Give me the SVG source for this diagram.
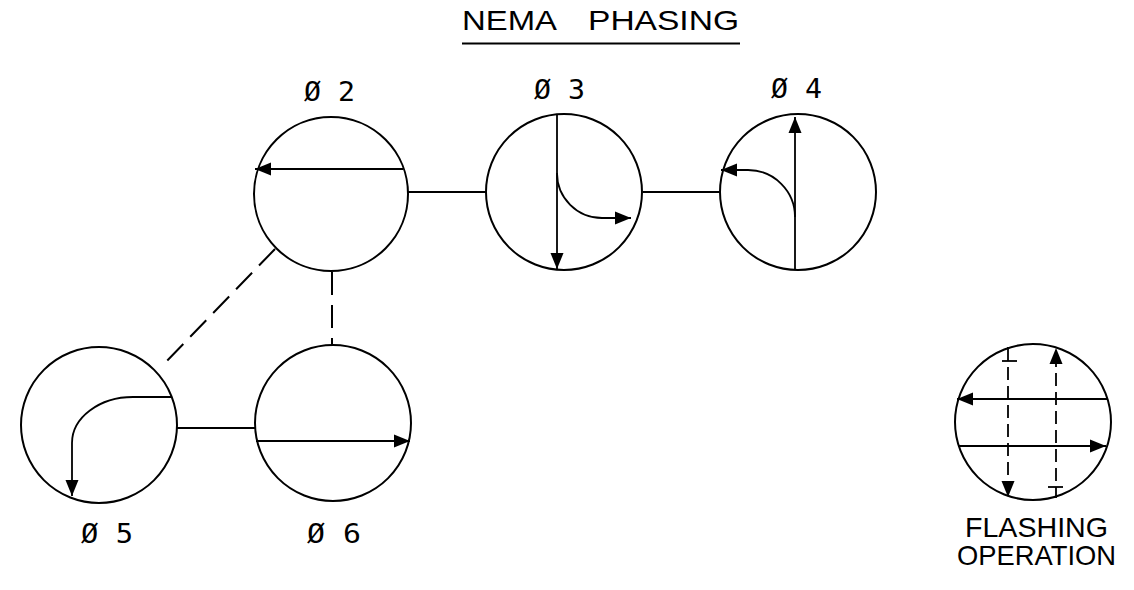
<svg xmlns="http://www.w3.org/2000/svg" width="1134" height="590" viewBox="0 0 1134 590">
<style>
.c{fill:none;stroke:#000;stroke-width:2}
.l{fill:none;stroke:#000;stroke-width:1.8}
.d{fill:none;stroke:#000;stroke-width:2;stroke-dasharray:23 10}
.fd{fill:none;stroke:#000;stroke-width:1.8;stroke-dasharray:13 6}
.a{marker-end:url(#ah)}
.t{font-family:"Liberation Sans","DejaVu Sans",sans-serif;font-size:28px;fill:#000}
.m{font-family:"DejaVu Sans Mono","Liberation Mono",monospace;font-size:27px;fill:#000}
</style>
<defs>
<marker id="ah" markerUnits="userSpaceOnUse" markerWidth="17" markerHeight="14" refX="16" refY="7" orient="auto">
<path d="M0,0.5 L16,7 L0,13.5 Z" fill="#000"/>
</marker>
</defs>
<rect width="1134" height="590" fill="#fff"/>
<g id="title">
<text class="t"><tspan x="462" y="30" textLength="95" lengthAdjust="spacingAndGlyphs">NEMA</tspan><tspan x="588" y="30" textLength="151" lengthAdjust="spacingAndGlyphs">PHASING</tspan></text>
<line x1="462" y1="43.5" x2="740" y2="43.5" class="l"/>
</g>
<g id="connectors">
<line x1="408" y1="192" x2="486" y2="192" class="l"/>
<line x1="643" y1="192" x2="720" y2="192" class="l"/>
<line x1="177" y1="428" x2="255" y2="428" class="l"/>
<line x1="275" y1="249" x2="162" y2="366" class="d"/>
<line x1="332" y1="272" x2="332" y2="346" class="d"/>
</g>
<g id="phase2">
<circle cx="331" cy="194" r="77" class="c"/>
<line x1="403" y1="169" x2="255" y2="169" class="l a"/>
<text class="m" x="304" y="101" textLength="51" lengthAdjust="spacingAndGlyphs">Ø 2</text>
</g>
<g id="phase3">
<circle cx="564" cy="192" r="78" class="c"/>
<line x1="557" y1="114" x2="557" y2="269" class="l a"/>
<path d="M557,173 A45,45 0 0 0 602,218 L631,218" class="l a"/>
<text class="m" x="534" y="99" textLength="51" lengthAdjust="spacingAndGlyphs">Ø 3</text>
</g>
<g id="phase4">
<circle cx="798" cy="192" r="78" class="c"/>
<line x1="795" y1="270" x2="795" y2="117" class="l a"/>
<path d="M795,217 A47,47 0 0 0 748,170 L721,170" class="l a"/>
<text class="m" x="771" y="98" textLength="51" lengthAdjust="spacingAndGlyphs">Ø 4</text>
</g>
<g id="phase5">
<circle cx="99" cy="425" r="78" class="c"/>
<path d="M172,397 L133,397 A61,46 0 0 0 72,443 L72,496" class="l a"/>
<text class="m" x="81" y="543" textLength="52" lengthAdjust="spacingAndGlyphs">Ø 5</text>
</g>
<g id="phase6">
<circle cx="333" cy="423" r="78" class="c"/>
<line x1="256" y1="441" x2="410" y2="441" class="l a"/>
<text class="m" x="307" y="543" textLength="54" lengthAdjust="spacingAndGlyphs">Ø 6</text>
</g>
<g id="flashing">
<circle cx="1033" cy="422" r="78" class="c"/>
<line x1="1108" y1="399" x2="957" y2="399" class="l a"/>
<line x1="958" y1="446" x2="1106" y2="446" class="l a"/>
<line x1="1008" y1="347" x2="1008" y2="361" class="l"/>
<line x1="1002" y1="361" x2="1017" y2="361" class="l"/>
<line x1="1008" y1="367" x2="1008" y2="497" class="fd a"/>
<line x1="1056" y1="498" x2="1056" y2="487" class="l"/>
<line x1="1048" y1="487" x2="1063" y2="487" class="l"/>
<line x1="1056" y1="481" x2="1056" y2="348" class="fd a"/>
<text class="t" x="965" y="537" textLength="143" lengthAdjust="spacingAndGlyphs">FLASHING</text>
<text class="t" x="957" y="565" textLength="159" lengthAdjust="spacingAndGlyphs">OPERATION</text>
</g>
</svg>
